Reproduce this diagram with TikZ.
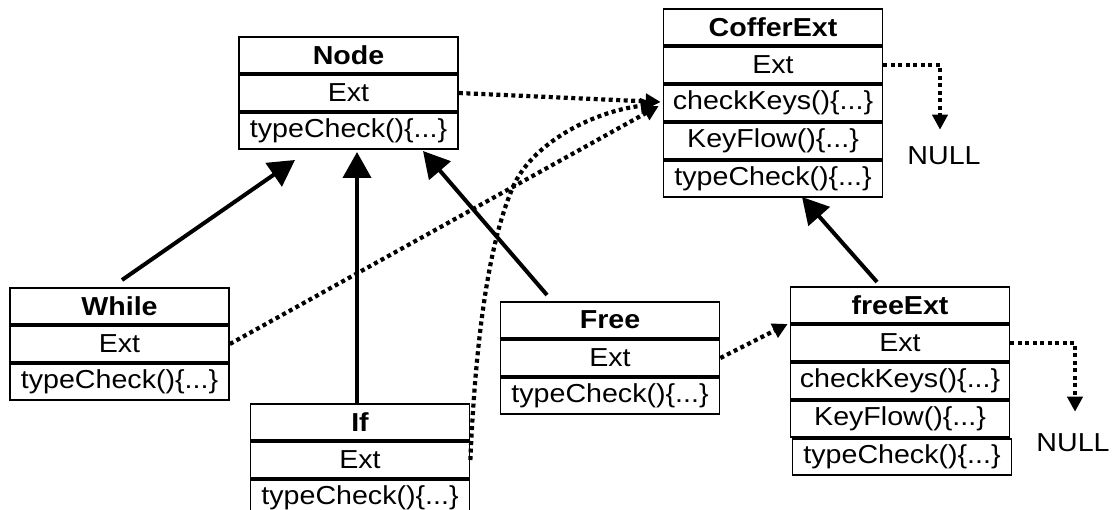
\documentclass[tikz,border=0pt]{standalone}
\usepackage{fontspec}
\setmainfont{Liberation Sans}[FakeStretch=1.1]
\usetikzlibrary{arrows.meta}
\begin{document}
\begin{tikzpicture}[x=1pt,y=-1pt,
  row/.style={draw, line width=1.7pt, minimum width=219pt, minimum height=36.3pt, inner sep=0pt, font=\fontsize{26}{30}\selectfont, anchor=north},
  head/.style={row, font=\fontsize{26}{30}\selectfont\bfseries},
  dotarrow/.style={line width=4.2pt, dash pattern=on 4pt off 3.5pt, -{Triangle[length=15pt,width=15pt]}},
  solidarrow/.style={line width=4pt, -{Triangle[length=26pt,width=28pt]}},
  nulltext/.style={font=\fontsize{26}{30}\selectfont, inner sep=0pt}]
\useasboundingbox[fill=white] (0,0) rectangle (1119,510);

% Node
\node[head] (n1) at (348.5,36) {Node};
\node[row] (n2) at (n1.south) {Ext};
\node[row] (n3) at (n2.south) {typeCheck()\{...\}};

% CofferExt
\node[head] (c1) at (773,8) {CofferExt};
\node[row] (c2) at (c1.south) {Ext};
\node[row] (c3) at (c2.south) {checkKeys()\{...\}};
\node[row] (c4) at (c3.south) {KeyFlow()\{...\}};
\node[row] (c5) at (c4.south) {typeCheck()\{...\}};
\draw[line width=2.8pt] (c3.south west) -- (c3.south east);

% While
\node[head] (w1) at (119.5,287) {While};
\node[row] (w2) at (w1.south) {Ext};
\node[row] (w3) at (w2.south) {typeCheck()\{...\}};

% If
\node[head] (i1) at (360,403) {If};
\node[row] (i2) at (i1.south) {Ext};
\node[row] (i3) at (i2.south) {typeCheck()\{...\}};

% Free
\node[head] (f1) at (610,301) {Free};
\node[row] (f2) at (f1.south) {Ext};
\node[row] (f3) at (f2.south) {typeCheck()\{...\}};
\draw[line width=2.8pt] (f1.south west) -- (f1.south east);

% freeExt
\node[head] (e1) at (900,286) {freeExt};
\node[row] (e2) at (e1.south) {Ext};
\node[row] (e3) at (e2.south) {checkKeys()\{...\}};
\node[row] (e4) at (e3.south) {KeyFlow()\{...\}};
\node[row] (e5) at ([xshift=2pt]e4.south) {typeCheck()\{...\}};

% NULL labels
\node[nulltext] (null1) at (944,156) {NULL};
\node[nulltext] (null2) at (1073,443) {NULL};

% dotted connectors
\draw[dotarrow] (n2.east) -- ([shift={(-2,-1)}]c3.west);
\draw[dotarrow] (c2.east) -| ([shift={(-4,-17)}]null1.north);
\draw[dotarrow] (w2.east) -- ([shift={(-4,3)}]c3.west);
\draw[dotarrow] (i2.east) .. controls (476,330) and (490,240) .. (513,187)
   .. controls (531,145) and (590,112) .. ([shift={(-7,1)}]c3.west);
\draw[dotarrow] (f2.east) -- ([xshift=-2pt]e1.south west);
\draw[dotarrow] (e2.east) -| ([shift={(2,-22)}]null2.north);

% solid inheritance arrows
\draw[solidarrow] ([shift={(2.5,-7)}]w1.north) -- ([shift={(-53.5,10)}]n3.south);
\draw[solidarrow] ([xshift=-3pt]i1.north) -- ([shift={(8.5,2)}]n3.south);
\draw[solidarrow] ([shift={(-63,-6)}]f1.north) -- ([shift={(74.5,1)}]n3.south);
\draw[solidarrow] ([shift={(-23,-4)}]e1.north) -- ([shift={(29,-1)}]c5.south);
\end{tikzpicture}
\end{document}
